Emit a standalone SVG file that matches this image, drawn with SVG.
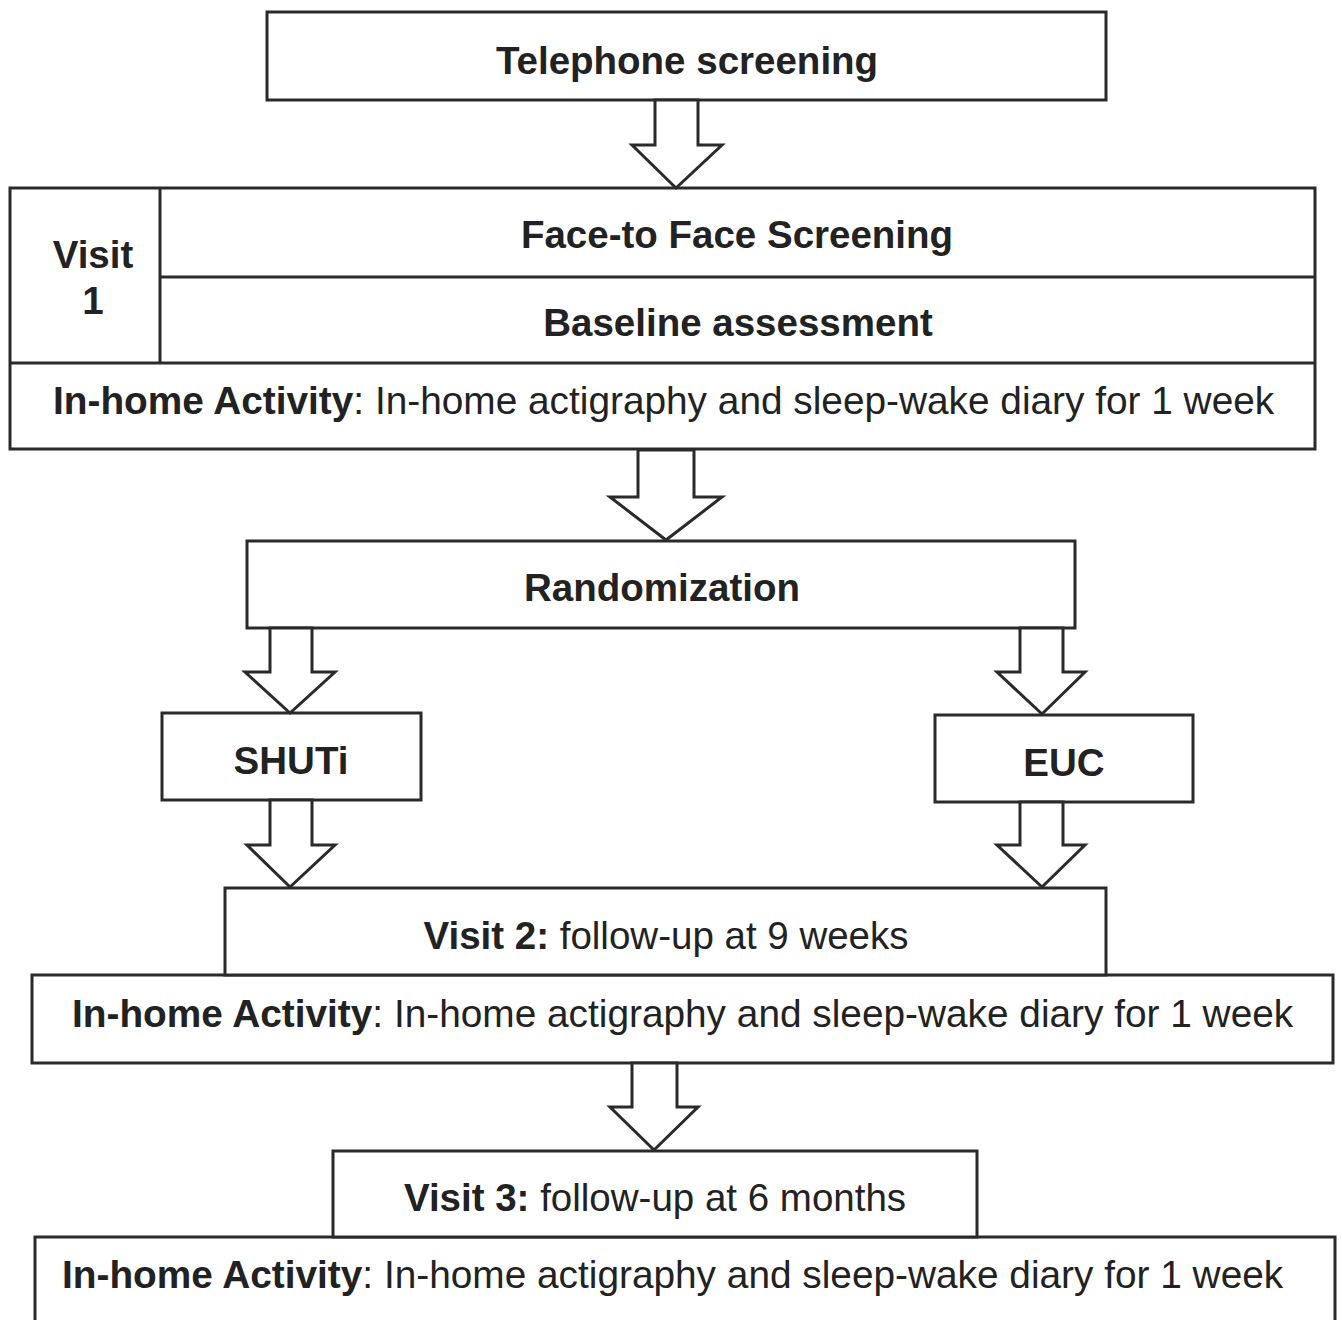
<svg xmlns="http://www.w3.org/2000/svg" width="1342" height="1320" viewBox="0 0 1342 1320">
<style>
.box{fill:#fff;stroke:#2a2a2a;stroke-width:3}
.ln{stroke:#2a2a2a;stroke-width:3;fill:none}
.arr{fill:#fff;stroke:#2a2a2a;stroke-width:3;stroke-linejoin:miter}
text{font-family:"Liberation Sans",Arial,sans-serif;font-size:38.5px;fill:#222}
.b{font-weight:bold}
.c{text-anchor:middle}
.ih{font-size:38.8px}
</style>
<rect width="1342" height="1320" fill="#fff"/>
<g id="telephone">
<rect class="box" x="267" y="12" width="839" height="88"/>
<text class="b c" x="687" y="74">Telephone screening</text>
</g>
<g id="visit1">
<rect class="box" x="10" y="188" width="1305" height="261"/>
<line class="ln" x1="160" y1="188" x2="160" y2="363"/>
<line class="ln" x1="160" y1="277" x2="1315" y2="277"/>
<line class="ln" x1="10" y1="363" x2="1315" y2="363"/>
<text class="b c" x="93" y="268">Visit</text>
<text class="b c" x="93" y="314">1</text>
<text class="b c" x="737" y="248">Face-to Face Screening</text>
<text class="b c" x="738" y="336">Baseline assessment</text>
<text class="ih" x="53" y="414"><tspan class="b">In-home Activity</tspan>: In-home actigraphy and sleep-wake diary for 1 week</text>
</g>
<g id="randomization">
<rect class="box" x="247" y="541" width="828" height="87"/>
<text class="b c" x="662" y="601">Randomization</text>
</g>
<g id="shuti">
<rect class="box" x="162" y="713" width="259" height="87"/>
<text class="b c" x="291" y="774">SHUTi</text>
</g>
<g id="euc">
<rect class="box" x="935" y="715" width="258" height="87"/>
<text class="b c" x="1064" y="776">EUC</text>
</g>
<g id="visit2">
<rect class="box" x="32" y="975" width="1301" height="88"/>
<rect class="box" x="225" y="888" width="881" height="87"/>
<text class="c" x="666" y="949"><tspan class="b">Visit 2:</tspan> follow-up at 9 weeks</text>
<text class="ih" x="72" y="1027"><tspan class="b">In-home Activity</tspan>: In-home actigraphy and sleep-wake diary for 1 week</text>
</g>
<g id="visit3">
<rect class="box" x="35" y="1237" width="1300" height="100"/>
<rect class="box" x="333" y="1151" width="644" height="86"/>
<text class="c" x="655" y="1211"><tspan class="b">Visit 3:</tspan> follow-up at 6 months</text>
<text class="ih" x="62" y="1288"><tspan class="b">In-home Activity</tspan>: In-home actigraphy and sleep-wake diary for 1 week</text>
</g>
<g id="connectors">
<polygon class="arr" points="655,100 655,145 632,145 676,188 722,145 698,145 698,100"/>
<polygon class="arr" points="638,450 638,497 610,497 666,540 722,497 694,497 694,450"/>
<polygon class="arr" points="270,628 270,672 245,672 290,713 335,672 312,672 312,628"/>
<polygon class="arr" points="1020,628 1020,672 997,672 1042,714 1085,672 1063,672 1063,628"/>
<polygon class="arr" points="270,800 270,845 247,845 290,887 335,845 312,845 312,800"/>
<polygon class="arr" points="1020,802 1020,845 997,845 1042,887 1085,845 1063,845 1063,802"/>
<polygon class="arr" points="632,1063 632,1107 610,1107 654,1150 698,1107 677,1107 677,1063"/>
</g>
</svg>
